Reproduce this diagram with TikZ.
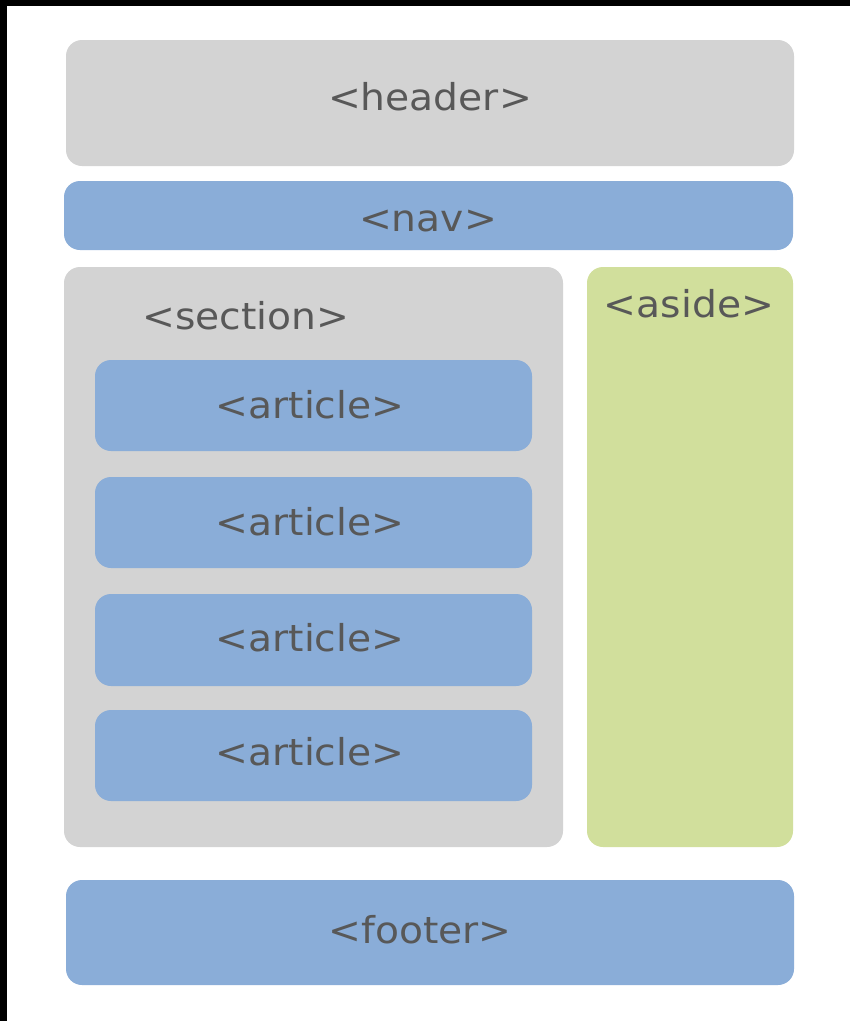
\documentclass[tikz,border=0pt]{standalone}
\usepackage{fontspec}
\setmainfont[FakeStretch=1.06]{DejaVu Sans}
\definecolor{boxgray}{HTML}{D3D3D3}
\definecolor{boxblue}{HTML}{8AADD8}
\definecolor{boxgreen}{HTML}{D1DF9C}
\definecolor{txt}{HTML}{585858}
\begin{document}
\begin{tikzpicture}[x=1pt,y=-1pt,
  blk/.style={rounded corners=16pt},
  lbl/.style={text=txt,font=\fontsize{37}{44}\selectfont,inner sep=0pt}]
\useasboundingbox (0,0) rectangle (850,1021);
\fill[black] (0,0) rectangle (850,1021);
\fill[white] (7,6) rectangle (850,1021);
\fill[boxgray,blk] (66,40) rectangle (794,166);
\fill[boxblue,blk] (64,181) rectangle (793,250);
\fill[boxgray,blk] (64,267) rectangle (563,847);
\fill[boxgreen,blk] (587,267) rectangle (793,847);
\fill[boxblue,blk] (95,360) rectangle (532,451);
\fill[boxblue,blk] (95,477) rectangle (532,568);
\fill[boxblue,blk] (95,594) rectangle (532,686);
\fill[boxblue,blk] (95,710) rectangle (532,801);
\fill[boxblue,blk] (66,880) rectangle (794,985);
\node[lbl] (header) at (430,97) {<header>};
\node[lbl] (nav) at (428,221) {<nav>};
\node[lbl] (section) at (246,316) {<section>};
\node[lbl] (aside) at (689,304) {<aside>};
\node[lbl] (a1) at (310,405) {<article>};
\node[lbl] (a2) at (310,522) {<article>};
\node[lbl] (a3) at (310,638) {<article>};
\node[lbl] (a4) at (310,752) {<article>};
\node[lbl] (footer) at (420,930) {<footer>};
\end{tikzpicture}
\end{document}
